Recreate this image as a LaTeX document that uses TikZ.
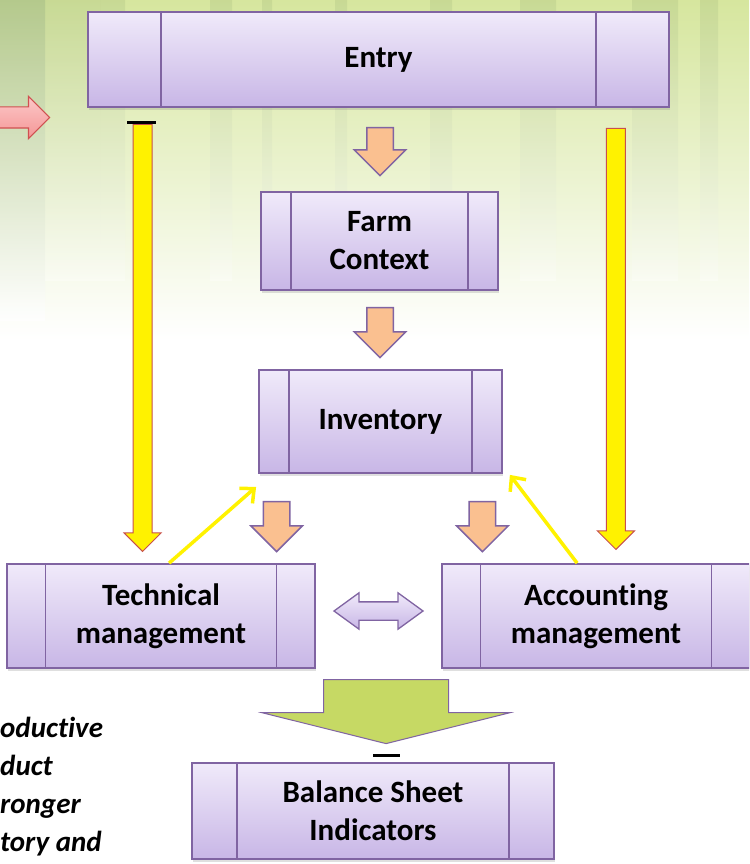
\documentclass[tikz,border=0pt]{standalone}
\usepackage{fontspec}
\setmainfont{Carlito}[Ligatures=NoCommon]
\usepackage{xcolor}
\usetikzlibrary{arrows.meta,calc,shapes.arrows,shadows}

\definecolor{boxedge}{RGB}{128,100,162}
\definecolor{boxtop}{RGB}{240,234,250}
\definecolor{boxbot}{RGB}{200,182,230}
\definecolor{stepfill}{RGB}{250,192,144}
\definecolor{sumfill}{RGB}{198,217,100}
\definecolor{barred}{RGB}{200,80,77}
\definecolor{bgtop}{RGB}{214,230,158}
\definecolor{bgmid}{RGB}{244,249,210}
\definecolor{bgdark}{RGB}{172,194,136}
\definecolor{trunk}{RGB}{168,190,128}
\definecolor{cuetop}{RGB}{252,200,200}
\definecolor{cuebot}{RGB}{244,150,150}
\definecolor{cueedge}{RGB}{208,80,80}

\begin{document}
\begin{tikzpicture}[x=1pt, y=-1pt,
  proc/.style={draw=boxedge, line width=1.8pt, top color=boxtop, bottom color=boxbot,
    minimum width=#1, align=center, inner sep=0pt,
    font=\fontsize{31}{38}\selectfont\bfseries,
    drop shadow={shadow xshift=1pt, shadow yshift=-3pt, opacity=.25},
    path picture={
      \foreach \p in {0.125,0.875}
        \draw[boxedge, line width=1.8pt]
          ($(path picture bounding box.north west)!\p!(path picture bounding box.north east)$) --
          ($(path picture bounding box.south west)!\p!(path picture bounding box.south east)$);
    }},
  stepdown/.style={single arrow, draw=boxedge, line width=1.5pt, fill=stepfill,
    inner sep=0pt, inner ysep=12.5pt, single arrow head extend=12.5pt,
    single arrow tip angle=90, single arrow head indent=0pt,
    minimum height=#1, rotate=-90, anchor=tail},
  bar/.style={single arrow, draw=barred, line width=1pt, fill=yellow,
    inner sep=0pt, inner ysep=9pt, single arrow head extend=9pt,
    single arrow tip angle=90, single arrow head indent=0pt,
    minimum height=#1, rotate=-90, anchor=tail},
  feed/.style={draw=yellow, line width=3.5pt, -{Straight Barb[length=11pt, width=20pt]}},
  tick/.style={line width=3pt, black},
  note/.style={font=\fontsize{29}{38}\selectfont\bfseries\itshape, inner sep=0pt, anchor=base west}]

\useasboundingbox (0,0) rectangle (749,864);
\clip (0,0) rectangle (749,864);

% forest backdrop
\fill[white] (0,0) rectangle (749,864);
\shade[top color=bgtop, middle color=bgmid, bottom color=white] (0,0) rectangle (749,340);
\shade[top color=bgdark, bottom color=white, opacity=.8] (0,0) rectangle (45,320);
\foreach \x/\w in {45/55, 100/25, 210/22, 262/10, 335/12, 430/22, 520/36, 632/46, 700/18}
  \shade[top color=trunk, bottom color=white, opacity=.3] (\x,0) rectangle ++(\w,280);

% boxes
\node[proc=581, minimum height=95] (entry) at (378.5,59.5) {Entry};
\node[proc=237, minimum height=98] (farm) at (379.5,241) {Farm\\Context};
\node[proc=243, minimum height=103] (inv) at (380.5,421.5) {Inventory};
\node[proc=308, minimum height=104] (tech) at (161,616) {Technical\\management};
\node[proc=308, minimum height=104] (acct) at (596,616) {Accounting\\management};
\node[proc=362, minimum height=96] (bal) at (373,811) {Balance Sheet\\Indicators};

% flow arrows
\node[stepdown=48] (s1) at ($(entry.south)+(1.5,19)$) {};
\node[stepdown=50] (s2) at ($(farm.south)+(0.5,16)$) {};
\node[stepdown=50] (s3) at ($(inv.south west)+(18.5,27)$) {};
\node[stepdown=50] (s4) at ($(inv.south east)+(-20.5,27)$) {};

\node[bar=427] (b1) at ($(entry.south west)+(55.5,16)$) {};
\node[bar=421] (b2) at ($(entry.south east)+(-54,20)$) {};
\draw[tick] ($(entry.south west)+(40,15)$) -- ++(29,0);

\draw[feed] ([xshift=163pt]tech.north west) -- ([shift={(-2pt,-13pt)}]inv.south west);
\draw[feed] ([xshift=136pt]acct.north west) -- ([shift={(7pt,-1pt)}]inv.south east);

\node[double arrow, draw=boxedge, line width=1.3pt, top color=boxtop, bottom color=boxbot,
  inner sep=0pt, inner ysep=8.5pt, double arrow head extend=9pt,
  double arrow tip angle=72, minimum height=89] (link) at ($(tech.east)!.5!(acct.west)+(0,-5)$) {};

\node[single arrow, draw=boxedge, line width=1pt, fill=sumfill,
  inner sep=0pt, inner ysep=62pt, single arrow head extend=61.5pt,
  single arrow tip angle=152, single arrow head indent=0pt,
  minimum height=64, rotate=-90, anchor=tail] (sum) at ($(bal.north)+(13,-83)$) {};
\draw[tick] ($(bal.north)+(0,-7)$) -- ++(27,0);

\node[single arrow, draw=cueedge, line width=1.2pt, top color=cuetop, bottom color=cuebot,
  inner sep=0pt, inner ysep=10pt, single arrow head extend=10.5pt,
  single arrow tip angle=90, single arrow head indent=0pt,
  minimum height=79, anchor=tail] (cue) at (-30,117.5) {};

% cut-off side text
\foreach \t [count=\i] in {oductive, duct, ronger, tory and}
  \node[note] (note\i) at (0,{699+38*\i}) {\t};
\end{tikzpicture}
\end{document}
